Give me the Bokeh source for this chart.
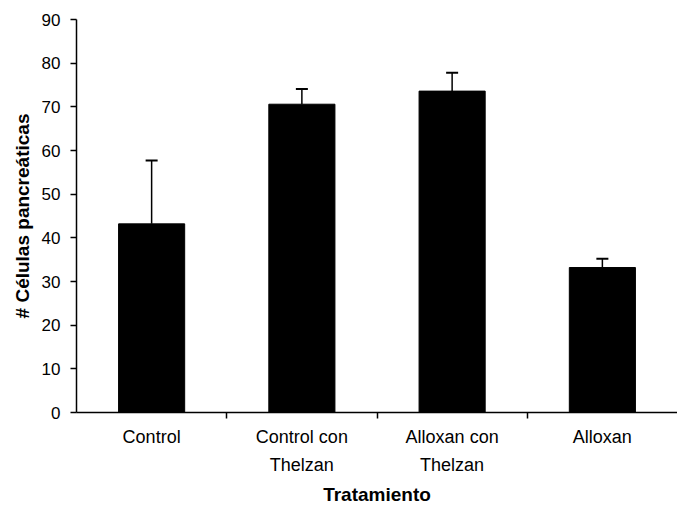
from bokeh.plotting import figure
from bokeh.models import Range1d, FixedTicker, Whisker, TeeHead, ColumnDataSource
from bokeh.embed import file_html
from bokeh.resources import INLINE

# Data
categories = ["Control", "Control con\nThelzan", "Alloxan con\nThelzan", "Alloxan"]
means = [43.2, 70.6, 73.6, 33.2]
errors = [14.5, 3.5, 4.2, 2.0]
y_ticks = [0, 10, 20, 30, 40, 50, 60, 70, 80, 90]

x_pos = [i + 0.5 for i in range(len(categories))]
upper = [m + e for m, e in zip(means, errors)]
src = ColumnDataSource(dict(x=x_pos, top=means, upper=upper, cat=categories))

p = figure(width=677, height=507, output_backend="svg", toolbar_location=None,
           x_range=Range1d(0, len(categories)), y_range=Range1d(0, 90),
           min_border_top=19, min_border_left=76, min_border_right=0, min_border_bottom=0)

p.vbar(x="x", top="top", bottom=0, width=0.44, source=src,
       fill_color="black", line_color="black")

w = Whisker(base="x", upper="upper", lower="top", source=src,
            line_color="black", line_width=1.5,
            upper_head=TeeHead(size=12, line_color="black", line_width=2),
            lower_head=None)
p.add_layout(w)

p.grid.visible = False
p.outline_line_color = None

# X axis: labels at category centers, tick marks between categories
xa = p.xaxis[0]
xa.ticker = FixedTicker(ticks=x_pos, minor_ticks=list(range(1, len(categories))))
xa.major_label_overrides = {x: c for x, c in zip(x_pos, categories)}
xa.major_tick_line_color = None
xa.major_tick_out = 6
xa.major_tick_in = 0
xa.minor_tick_line_color = "black"
xa.minor_tick_out = 6
xa.minor_tick_in = 0
xa.minor_tick_line_width = 1.5
xa.axis_line_color = "black"
xa.axis_line_width = 1.5
xa.major_label_text_font = "Liberation Sans"
xa.major_label_text_font_size = "18px"
xa.major_label_text_color = "black"
xa.major_label_text_line_height = 1.4
xa.major_label_standoff = 8
xa.axis_label = "Tratamiento"
xa.axis_label_text_font = "Liberation Sans"
xa.axis_label_text_font_size = "19px"
xa.axis_label_text_font_style = "bold"
xa.axis_label_text_color = "black"
xa.axis_label_standoff = 6

ya = p.yaxis[0]
ya.ticker = FixedTicker(ticks=y_ticks)
ya.minor_tick_line_color = None
ya.major_tick_out = 6
ya.major_tick_in = 0
ya.major_tick_line_color = "black"
ya.major_tick_line_width = 1.5
ya.axis_line_color = "black"
ya.axis_line_width = 1.5
ya.major_label_text_font = "Liberation Sans"
ya.major_label_text_font_size = "17px"
ya.major_label_text_color = "black"
ya.major_label_standoff = 10
ya.axis_label = "# Células pancreáticas"
ya.axis_label_text_font = "Liberation Sans"
ya.axis_label_text_font_size = "19px"
ya.axis_label_text_font_style = "bold"
ya.axis_label_text_color = "black"
ya.axis_label_standoff = 6

open("out.html", "w").write(file_html(p, INLINE))
